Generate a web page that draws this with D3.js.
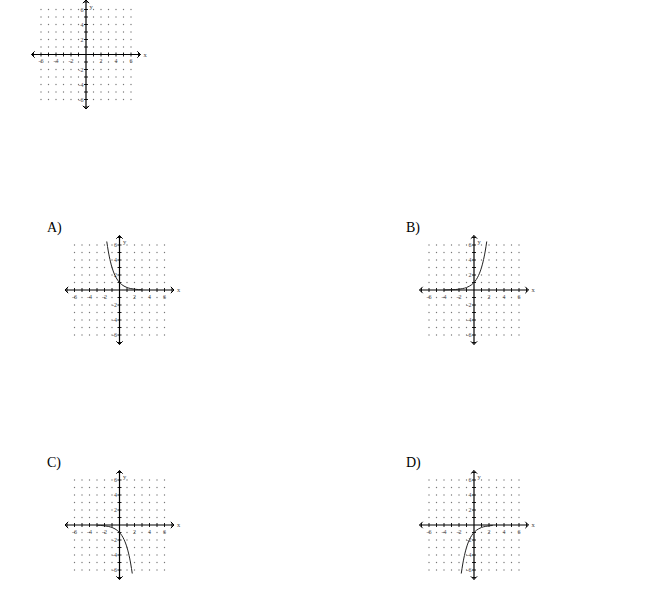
<!DOCTYPE html>
<html>
<head>
<meta charset="utf-8">
<script src="https://cdn.jsdelivr.net/npm/d3@7"></script>
<style>
  body { margin: 0; background: #fff; }
  svg { display: block; }
</style>
</head>
<body>
<div id="chart"></div>
<script>
// grid / axis values
const gridValues = [-6, -5, -4, -3, -2, -1, 1, 2, 3, 4, 5, 6];
const tickValues = [-7, -6, -5, -4, -3, -2, -1, 1, 2, 3, 4, 5, 6, 7];
const tickLabels = [-6, -4, -2, 2, 4, 6];
const optionLetters = ["A)", "B)", "C)", "D)"];

// curves
const curveAx = [-1.7, -1.5, -1.2, -1, -0.7, -0.5, -0.2, 0, 0.3, 0.6, 1, 1.5, 2, 2.5, 3];
const curveAy = [6.47, 5.2, 3.74, 3, 2.16, 1.73, 1.25, 1, 0.72, 0.52, 0.33, 0.19, 0.11, 0.06, 0.04];
const curveBx = [-4, -3, -2.5, -2, -1.5, -1, -0.6, -0.3, 0, 0.3, 0.6, 1, 1.2, 1.5, 1.7];
const curveBy = [0.01, 0.04, 0.06, 0.11, 0.19, 0.33, 0.52, 0.72, 1, 1.39, 1.93, 3, 3.74, 5.2, 6.47];
const curveCx = [-3, -2.5, -2, -1.5, -1, -0.6, -0.3, 0, 0.3, 0.6, 1, 1.2, 1.5, 1.7];
const curveCy = [-0.04, -0.06, -0.11, -0.19, -0.33, -0.52, -0.72, -1, -1.39, -1.93, -3, -3.74, -5.2, -6.47];
const curveDx = [-1.7, -1.5, -1.2, -1, -0.6, -0.3, 0, 0.3, 0.6, 1, 1.5, 2, 2.5];
const curveDy = [-6.47, -5.2, -3.74, -3, -1.93, -1.39, -1, -0.72, -0.52, -0.33, -0.19, -0.11, -0.06];

const width = 650, height = 613;
const unit = 7.5;
const serif = "'Liberation Serif', 'Times New Roman', serif";

const svg = d3.select("#chart").append("svg")
    .attr("width", width)
    .attr("height", height);

function drawGraph(cx, cy, xs, ys) {
    const x = d3.scaleLinear().domain([-7, 7]).range([cx - 7 * unit, cx + 7 * unit]);
    const y = d3.scaleLinear().domain([-7, 7]).range([cy + 7 * unit, cy - 7 * unit]);
    const g = svg.append("g");

    // dot grid
    const pts = [];
    gridValues.forEach(a => gridValues.forEach(b => pts.push([a, b])));
    g.selectAll(".dot").data(pts).join("circle")
        .attr("class", "dot")
        .attr("cx", d => x(d[0]))
        .attr("cy", d => y(d[1]))
        .attr("r", 0.7)
        .attr("fill", "#777");

    // axes
    g.append("line")
        .attr("x1", x(-7) - 2).attr("x2", x(7) + 2)
        .attr("y1", y(0)).attr("y2", y(0))
        .attr("stroke", "#000").attr("stroke-width", 1.2);
    g.append("line")
        .attr("x1", x(0)).attr("x2", x(0))
        .attr("y1", y(7) - 2).attr("y2", y(-7) + 2)
        .attr("stroke", "#000").attr("stroke-width", 1.2);

    // arrowheads
    const ax = 3.2;
    const arrows = [
        [[x(-7) + ax - 2, y(0) - ax], [x(-7) - 2, y(0)], [x(-7) + ax - 2, y(0) + ax]],
        [[x(7) - ax + 2, y(0) - ax], [x(7) + 2, y(0)], [x(7) - ax + 2, y(0) + ax]],
        [[x(0) - ax, y(7) + ax - 2], [x(0), y(7) - 2], [x(0) + ax, y(7) + ax - 2]],
        [[x(0) - ax, y(-7) - ax + 2], [x(0), y(-7) + 2], [x(0) + ax, y(-7) - ax + 2]]
    ];
    g.selectAll(".arrow").data(arrows).join("path")
        .attr("class", "arrow")
        .attr("d", d3.line())
        .attr("fill", "none")
        .attr("stroke", "#000")
        .attr("stroke-width", 1);

    // tick marks
    g.selectAll(".xtick").data(tickValues).join("line")
        .attr("x1", d => x(d)).attr("x2", d => x(d))
        .attr("y1", y(0) - 2).attr("y2", y(0) + 2)
        .attr("stroke", "#000").attr("stroke-width", 0.9);
    g.selectAll(".ytick").data(tickValues).join("line")
        .attr("y1", d => y(d)).attr("y2", d => y(d))
        .attr("x1", x(0) - 2).attr("x2", x(0) + 2)
        .attr("stroke", "#000").attr("stroke-width", 0.9);

    // tick labels
    g.selectAll(".xlab").data(tickLabels).join("text")
        .attr("x", d => x(d))
        .attr("y", y(0) + 8.5)
        .attr("text-anchor", "middle")
        .attr("font-family", serif)
        .attr("font-size", 6)
        .attr("fill", "#444")
        .text(d => d);
    g.selectAll(".ylab").data(tickLabels).join("text")
        .attr("x", x(0) - 2.5)
        .attr("y", d => y(d) + 2)
        .attr("text-anchor", "end")
        .attr("font-family", serif)
        .attr("font-size", 6)
        .attr("fill", "#444")
        .text(d => d);

    g.append("text")
        .attr("x", x(7) + 5).attr("y", y(0) + 2)
        .attr("font-family", serif)
        .attr("font-size", 6.5).attr("fill", "#444")
        .text("x");
    g.append("text")
        .attr("x", x(0) + 3.5).attr("y", y(7) + 6.5)
        .attr("font-family", serif)
        .attr("font-size", 6.5).attr("fill", "#444")
        .text("y");

    if (xs) {
        const line = d3.line()
            .x(d => x(d[0]))
            .y(d => y(d[1]))
            .curve(d3.curveMonotoneX);
        g.append("path")
            .datum(d3.zip(xs, ys))
            .attr("d", line)
            .attr("fill", "none")
            .attr("stroke", "#222")
            .attr("stroke-width", 1);
    }
}

// question graph (blank)
drawGraph(86, 54.5);

const options = [
    { cx: 119.5, cy: 290, lx: 47, ly: 232, xs: curveAx, ys: curveAy },
    { cx: 474, cy: 290, lx: 406, ly: 232, xs: curveBx, ys: curveBy },
    { cx: 119.5, cy: 525, lx: 47, ly: 467, xs: curveCx, ys: curveCy },
    { cx: 474, cy: 525, lx: 406, ly: 467, xs: curveDx, ys: curveDy }
];

options.forEach((o, i) => {
    svg.append("text")
        .attr("x", o.lx).attr("y", o.ly)
        .attr("font-family", serif)
        .attr("font-size", 14)
        .attr("fill", "#000")
        .text(optionLetters[i]);
    drawGraph(o.cx, o.cy, o.xs, o.ys);
});
</script>
</body>
</html>
